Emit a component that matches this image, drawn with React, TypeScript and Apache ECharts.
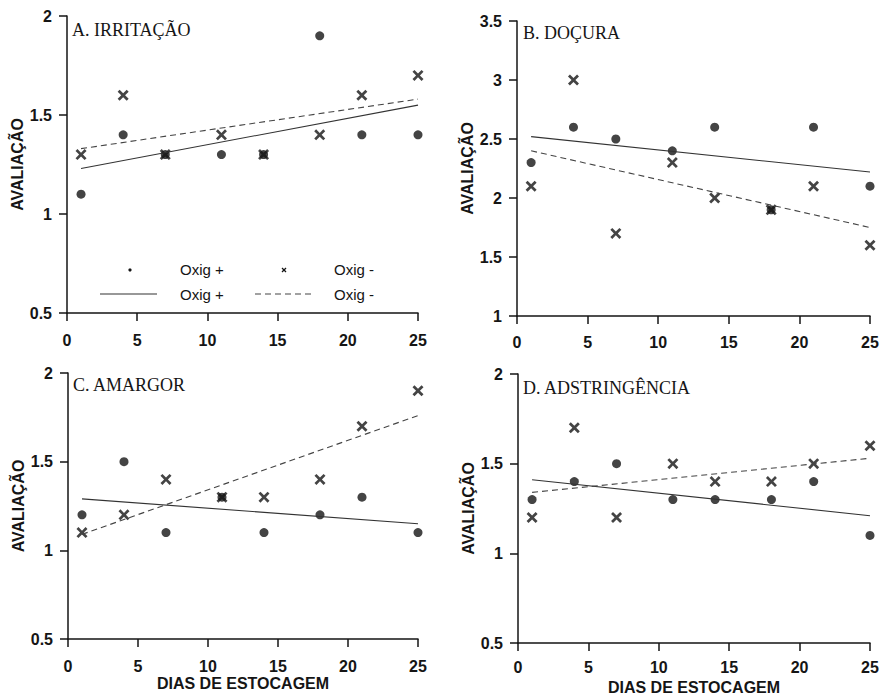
import React, { useEffect, useRef } from "react";
import * as echarts from "echarts";

const days = [1, 4, 7, 11, 14, 18, 21, 25];
const trendDays = [1, 25];

const panelTitles = ["A. IRRITAÇÃO", "B. DOÇURA", "C. AMARGOR", "D. ADSTRINGÊNCIA"];

const irritacaoPlus = [1.1, 1.4, 1.3, 1.3, 1.3, 1.9, 1.4, 1.4];
const irritacaoMinus = [1.3, 1.6, 1.3, 1.4, 1.3, 1.4, 1.6, 1.7];
const irritacaoTrendPlus = [1.23, 1.55];
const irritacaoTrendMinus = [1.33, 1.58];

const docuraPlus = [2.3, 2.6, 2.5, 2.4, 2.6, 1.9, 2.6, 2.1];
const docuraMinus = [2.1, 3.0, 1.7, 2.3, 2.0, 1.9, 2.1, 1.6];
const docuraTrendPlus = [2.52, 2.22];
const docuraTrendMinus = [2.4, 1.75];

const amargorPlus = [1.2, 1.5, 1.1, 1.3, 1.1, 1.2, 1.3, 1.1];
const amargorMinus = [1.1, 1.2, 1.4, 1.3, 1.3, 1.4, 1.7, 1.9];
const amargorTrendPlus = [1.29, 1.15];
const amargorTrendMinus = [1.09, 1.76];

const adstPlus = [1.3, 1.4, 1.5, 1.3, 1.3, 1.3, 1.4, 1.1];
const adstMinus = [1.2, 1.7, 1.2, 1.5, 1.4, 1.4, 1.5, 1.6];
const adstTrendPlus = [1.41, 1.21];
const adstTrendMinus = [1.34, 1.53];

const yMins = [0.5, 1, 0.5, 0.5];
const yMaxs = [2, 3.5, 2, 2];

const legendLabels = ["Oxig +", "Oxig -"];
const yName = "AVALIAÇÃO";
const xName = "DIAS DE ESTOCAGEM";

const panels = [
  { plus: irritacaoPlus, minus: irritacaoMinus, tp: irritacaoTrendPlus, tm: irritacaoTrendMinus },
  { plus: docuraPlus, minus: docuraMinus, tp: docuraTrendPlus, tm: docuraTrendMinus },
  { plus: amargorPlus, minus: amargorMinus, tp: amargorTrendPlus, tm: amargorTrendMinus },
  { plus: adstPlus, minus: adstMinus, tp: adstTrendPlus, tm: adstTrendMinus },
];

const grids = [
  { left: 67, top: 16, width: 351, height: 297 },
  { left: 517, top: 21, width: 353, height: 295 },
  { left: 68, top: 373, width: 350, height: 266 },
  { left: 518, top: 374, width: 352, height: 269 },
];
const titlePos = [
  { left: 72, top: 21 },
  { left: 523, top: 24 },
  { left: 73, top: 376 },
  { left: 523, top: 379 },
];
const xLabelMargins = [19, 18, 19, 16];

const CROSS = "path://M0,1.75L1.75,0L5,3.25L8.25,0L10,1.75L6.75,5L10,8.25L8.25,10L5,6.75L1.75,10L0,8.25L3.25,5Z";
const INK = "#151515";
const SANS = "Liberation Sans, Arial, sans-serif";
const SERIF = "Liberation Serif, Times New Roman, serif";

export default function App() {
  const ref = useRef<HTMLDivElement>(null);
  useEffect(() => {
    if (!ref.current) return;
    const chart = echarts.init(ref.current, null, { renderer: "svg" });
    const axisLine = { show: true, lineStyle: { color: INK, width: 1.5 } };
    const axisTick = { show: true, inside: false, length: 8, lineStyle: { color: INK, width: 1.5 } };
    const labelStyle = { color: INK, fontFamily: SANS, fontSize: 16, fontWeight: "bold" as const };

    const xAxis = grids.map((_, i) => ({
      type: "value",
      gridIndex: i,
      min: 0,
      max: 25,
      interval: 5,
      axisLine,
      axisTick,
      splitLine: { show: false },
      axisLabel: { ...labelStyle, margin: xLabelMargins[i] },
      name: i >= 2 ? xName : "",
      nameLocation: "middle",
      nameGap: 36,
      nameTextStyle: { ...labelStyle },
    }));
    const yAxis = grids.map((_, i) => ({
      type: "value",
      gridIndex: i,
      min: yMins[i],
      max: yMaxs[i],
      interval: 0.5,
      axisLine,
      axisTick,
      splitLine: { show: false },
      axisLabel: { ...labelStyle, margin: 15 },
      name: yName,
      nameLocation: "middle",
      nameRotate: 90,
      nameGap: 41,
      nameTextStyle: { ...labelStyle },
    }));

    const series: any[] = [];
    panels.forEach((p, i) => {
      series.push({
        type: "line",
        xAxisIndex: i,
        yAxisIndex: i,
        showSymbol: false,
        symbol: "none",
        lineStyle: { color: "#333", width: 1.1, type: "solid" },
        data: trendDays.map((d, j) => [d, p.tp[j]]),
      });
      series.push({
        type: "line",
        xAxisIndex: i,
        yAxisIndex: i,
        showSymbol: false,
        symbol: "none",
        lineStyle: { color: "#444", width: 1.1, type: [6, 4] },
        data: trendDays.map((d, j) => [d, p.tm[j]]),
      });
      series.push({
        type: "scatter",
        xAxisIndex: i,
        yAxisIndex: i,
        symbol: "circle",
        symbolSize: 9,
        itemStyle: { color: INK },
        data: days.map((d, j) => [d, p.plus[j]]),
      });
      series.push({
        type: "scatter",
        xAxisIndex: i,
        yAxisIndex: i,
        symbol: CROSS,
        symbolSize: 11,
        itemStyle: { color: INK },
        data: days.map((d, j) => [d, p.minus[j]]),
      });
    });

    const legendText = { fontFamily: SANS, fontSize: 15, fill: INK };
    const graphic = [
      { type: "circle", shape: { cx: 130, cy: 270, r: 1.6 }, style: { fill: INK } },
      { type: "text", left: 180, top: 262, style: { ...legendText, text: legendLabels[0] } },
      { type: "line", shape: { x1: 282, y1: 268, x2: 286, y2: 272 }, style: { stroke: INK, lineWidth: 1.3 } },
      { type: "line", shape: { x1: 286, y1: 268, x2: 282, y2: 272 }, style: { stroke: INK, lineWidth: 1.3 } },
      { type: "text", left: 334, top: 262, style: { ...legendText, text: legendLabels[1] } },
      { type: "line", shape: { x1: 100, y1: 294, x2: 157, y2: 294 }, style: { stroke: "#333", lineWidth: 1.1 } },
      { type: "text", left: 180, top: 287, style: { ...legendText, text: legendLabels[0] } },
      { type: "line", shape: { x1: 255, y1: 294, x2: 313, y2: 294 }, style: { stroke: "#444", lineWidth: 1.1, lineDash: [6, 4] } },
      { type: "text", left: 334, top: 287, style: { ...legendText, text: legendLabels[1] } },
    ];

    chart.setOption({
      animation: false,
      backgroundColor: "#ffffff",
      title: panelTitles.map((t, i) => ({
        text: t,
        left: titlePos[i].left,
        top: titlePos[i].top,
        padding: 0,
        textStyle: { fontFamily: SERIF, fontSize: 18, fontWeight: "normal", color: INK },
      })),
      grid: grids,
      xAxis,
      yAxis,
      series,
      graphic,
    });
    return () => chart.dispose();
  }, []);
  return (
    <div
      ref={ref}
      style={{ position: "absolute", left: 0, top: 0, width: 882, height: 696, background: "#fff" }}
    />
  );
}
